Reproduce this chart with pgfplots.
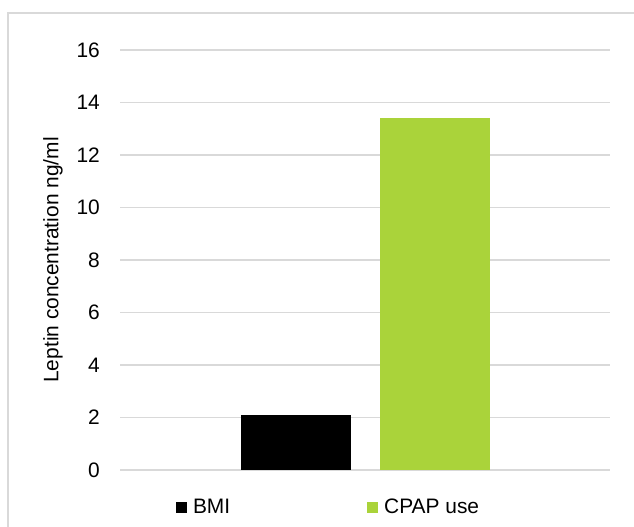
\documentclass[border=0pt]{standalone}
\usepackage{pgfplots}
\pgfplotsset{compat=1.18}
\usepackage{fontspec}
\setmainfont{Liberation Sans}
\definecolor{gridgray}{RGB}{217,217,217}
\definecolor{cpapgreen}{RGB}{170,211,58}
\begin{document}
\begin{tikzpicture}[x=1bp,y=1bp]
\useasboundingbox (0,0) rectangle (634,527);
\draw[gridgray, line width=1.3bp] (8,0) -- (8,514) -- (640,514);
\begin{axis}[
  at={(120bp,57bp)}, anchor=origin,
  scale only axis, width=490bp, height=420bp,
  xmin=0, xmax=490, ymin=0, ymax=16,
  ytick={0,2,...,16}, xtick=\empty,
  axis line style={draw=none},
  ymajorgrids, major grid style={gridgray, line width=1.3bp},
  tick style={draw=none},
  font=\fontsize{21}{24}\selectfont,
  /pgf/number format/assume math mode=true,
  yticklabel style={font=\fontsize{21}{24}\selectfont, inner sep=0pt, anchor=east, xshift=-20bp},
  ylabel={Leptin concentration ng/ml},
  ylabel style={at={([xshift=-67bp]rel axis cs:0,0.5)}, anchor=center, font=\fontsize{21}{24}\selectfont},
  legend style={at={(rel axis cs:0.1143,-0.089)}, anchor=west, draw=none, inner sep=0pt, outer sep=0pt,
    font=\fontsize{21}{24}\selectfont, legend cell align=left,
    /tikz/every odd column/.append style={column sep=4bp},
    /tikz/every even column/.append style={column sep=135bp}},
  legend columns=2,
  legend image code/.code={\fill[#1] (0bp,-5.5bp) rectangle (11bp,5.5bp);},
]
\addplot[ybar, bar width=110, bar shift=0pt, fill=black, draw=none] coordinates {(176,2.1)};
\addlegendentry{BMI}
\addplot[ybar, bar width=110, bar shift=0pt, fill=cpapgreen, draw=none] coordinates {(315,13.41)};
\addlegendentry{CPAP use}
\end{axis}
\end{tikzpicture}
\end{document}
